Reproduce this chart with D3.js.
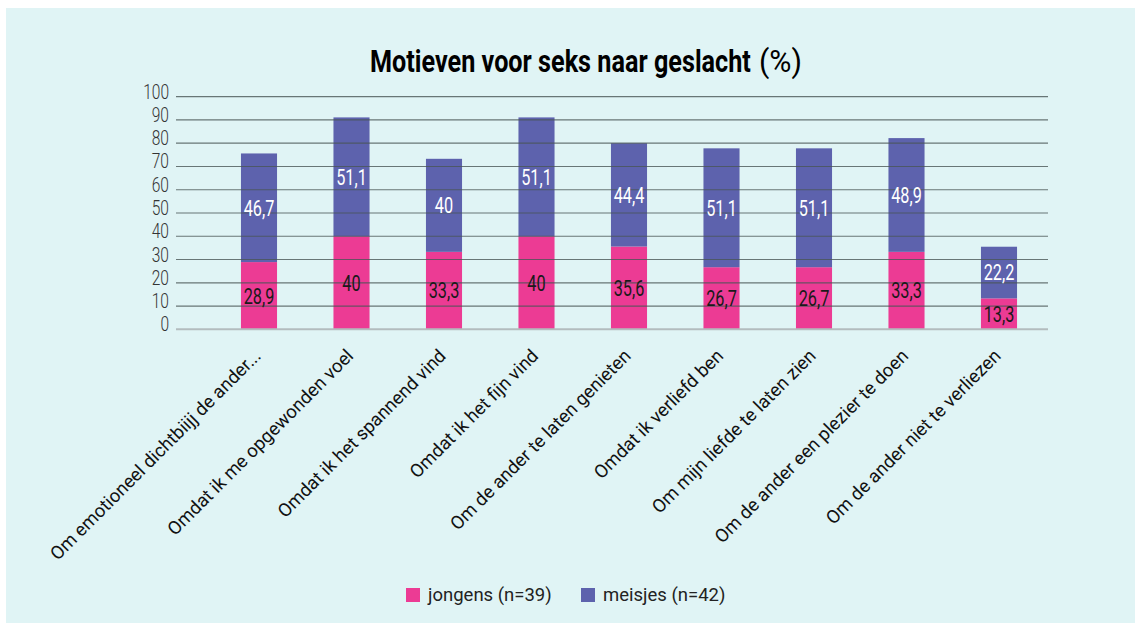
<!DOCTYPE html>
<html>
<head>
<meta charset="utf-8">
<title>Motieven voor seks naar geslacht</title>
<style>
  body { margin: 0; background: #ffffff; }
  .tick-label { font-family: Roboto, sans-serif; font-weight: 300; font-size: 21px; fill: #333; }
  .val { font-family: Roboto, sans-serif; font-size: 22px; }
  .cat { font-family: Roboto, "Noto Sans", sans-serif; font-size: 18.5px; fill: #111; }
  .leg { font-family: Roboto, "Noto Sans", sans-serif; font-size: 18.5px; fill: #222; }
</style>
</head>
<body>
<script src="https://cdn.jsdelivr.net/npm/d3@7"></script>
<script>
// data
var categories = [
  "Om emotioneel dichtbiijj de ander...",
  "Omdat ik me opgewonden voel",
  "Omdat ik het spannend vind",
  "Omdat ik het fijn vind",
  "Om de ander te laten genieten",
  "Omdat ik verliefd ben",
  "Om mijn liefde te laten zien",
  "Om de ander een plezier te doen",
  "Om de ander niet te verliezen"
];
var jongens = [28.9, 40, 33.3, 40, 35.6, 26.7, 26.7, 33.3, 13.3];
var meisjes = [46.7, 51.1, 40, 51.1, 44.4, 51.1, 51.1, 48.9, 22.2];
var seriesNames = ["jongens (n=39)", "meisjes (n=42)"];
var yTicks = [0, 10, 20, 30, 40, 50, 60, 70, 80, 90, 100];

var colors = ["#ec3b94", "#5d62ad"];
var W = 1135, H = 623;
var squeeze = 0.74;   // fake a condensed face

var svg = d3.select("body").append("svg")
    .attr("width", W).attr("height", H);

// panel background
svg.append("rect")
    .attr("x", 6).attr("y", 8)
    .attr("width", W - 6).attr("height", H - 8)
    .attr("fill", "#e0f4f5");

var x = d3.scaleBand()
    .domain(categories)
    .range([212.75, 1045.25])
    .paddingInner(0.61)
    .paddingOuter(0.305);

var y = d3.scaleLinear().domain([0, 100]).range([329.3, 96.7]);

var data = categories.map(function(c, i) {
  return { cat: c, j: jongens[i], m: meisjes[i] };
});

// bars
var g = svg.append("g");
g.selectAll("rect.j").data(data).enter().append("rect")
    .attr("class", "j")
    .attr("x", function(d) { return x(d.cat); })
    .attr("width", x.bandwidth())
    .attr("y", function(d) { return y(d.j); })
    .attr("height", function(d) { return y(0) - y(d.j); })
    .attr("fill", colors[0]);

g.selectAll("rect.m").data(data).enter().append("rect")
    .attr("class", "m")
    .attr("x", function(d) { return x(d.cat); })
    .attr("width", x.bandwidth())
    .attr("y", function(d) { return y(d.j + d.m); })
    .attr("height", function(d) { return y(d.j) - y(d.j + d.m); })
    .attr("fill", colors[1]);

// gridlines on top of the bars
var grid = svg.append("g");
grid.selectAll("line").data(yTicks.filter(function(t) { return t > 0; })).enter().append("line")
    .attr("x1", 176).attr("x2", 1048)
    .attr("y1", function(d) { return y(d); })
    .attr("y2", function(d) { return y(d); })
    .attr("stroke", "#4a5656")
    .attr("stroke-opacity", 0.8)
    .attr("stroke-width", 1.2);

svg.append("line")
    .attr("x1", 176).attr("x2", 1048)
    .attr("y1", y(0)).attr("y2", y(0))
    .attr("stroke", "#b3bcbe")
    .attr("stroke-width", 2);

// y tick labels
svg.selectAll("text.tick-label").data(yTicks).enter().append("text")
    .attr("class", "tick-label")
    .attr("text-anchor", "end")
    .attr("transform", function(d) {
      return "translate(169," + (y(d) + 2) + ") scale(" + squeeze + ",1)";
    })
    .text(function(d) { return d; });

// value labels
function fmt(v) { return String(v).replace(".", ","); }

svg.selectAll("text.vj").data(data).enter().append("text")
    .attr("class", "val")
    .attr("text-anchor", "middle")
    .attr("dy", "0.36em")
    .attr("fill", "#1a1a1a")
    .attr("transform", function(d) {
      return "translate(" + (x(d.cat) + x.bandwidth() / 2) + "," + y(d.j / 2) + ") scale(" + squeeze + ",1)";
    })
    .text(function(d) { return fmt(d.j); });

svg.selectAll("text.vm").data(data).enter().append("text")
    .attr("class", "val")
    .attr("text-anchor", "middle")
    .attr("dy", "0.36em")
    .attr("fill", "#ffffff")
    .attr("transform", function(d) {
      return "translate(" + (x(d.cat) + x.bandwidth() / 2) + "," + y(d.j + d.m / 2) + ") scale(" + squeeze + ",1)";
    })
    .text(function(d) { return fmt(d.m); });

// category labels, rotated
svg.selectAll("text.cat").data(categories).enter().append("text")
    .attr("class", "cat")
    .attr("text-anchor", "end")
    .attr("transform", function(d) {
      return "translate(" + (x(d) + x.bandwidth() / 2 + 3) + ",357) rotate(-45)";
    })
    .text(function(d) { return d; });

// title, "(%)" in a lighter weight; squeeze each part to its width
function squeezedText(str, x0, w, weight) {
  var t = svg.append("text")
      .style("font-family", "Roboto, sans-serif")
      .style("font-size", "32px")
      .style("font-weight", weight)
      .attr("fill", "#000")
      .text(str);
  var sx = w / t.node().getComputedTextLength();
  t.attr("transform", "translate(" + x0 + ",72) scale(" + sx + ",1)");
}
squeezedText("Motieven voor seks naar geslacht", 370, 381, "bold");
squeezedText("(%)", 759, 43, "normal");

// legend
var legX = [406, 581];
var leg = svg.selectAll("g.leg").data(seriesNames).enter().append("g")
    .attr("transform", function(d, i) { return "translate(" + legX[i] + ",588)"; });
leg.append("rect")
    .attr("width", 14).attr("height", 14)
    .attr("fill", function(d, i) { return colors[i]; });
leg.append("text")
    .attr("class", "leg")
    .attr("x", 22).attr("y", 13)
    .text(function(d) { return d; });
</script>
</body>
</html>
